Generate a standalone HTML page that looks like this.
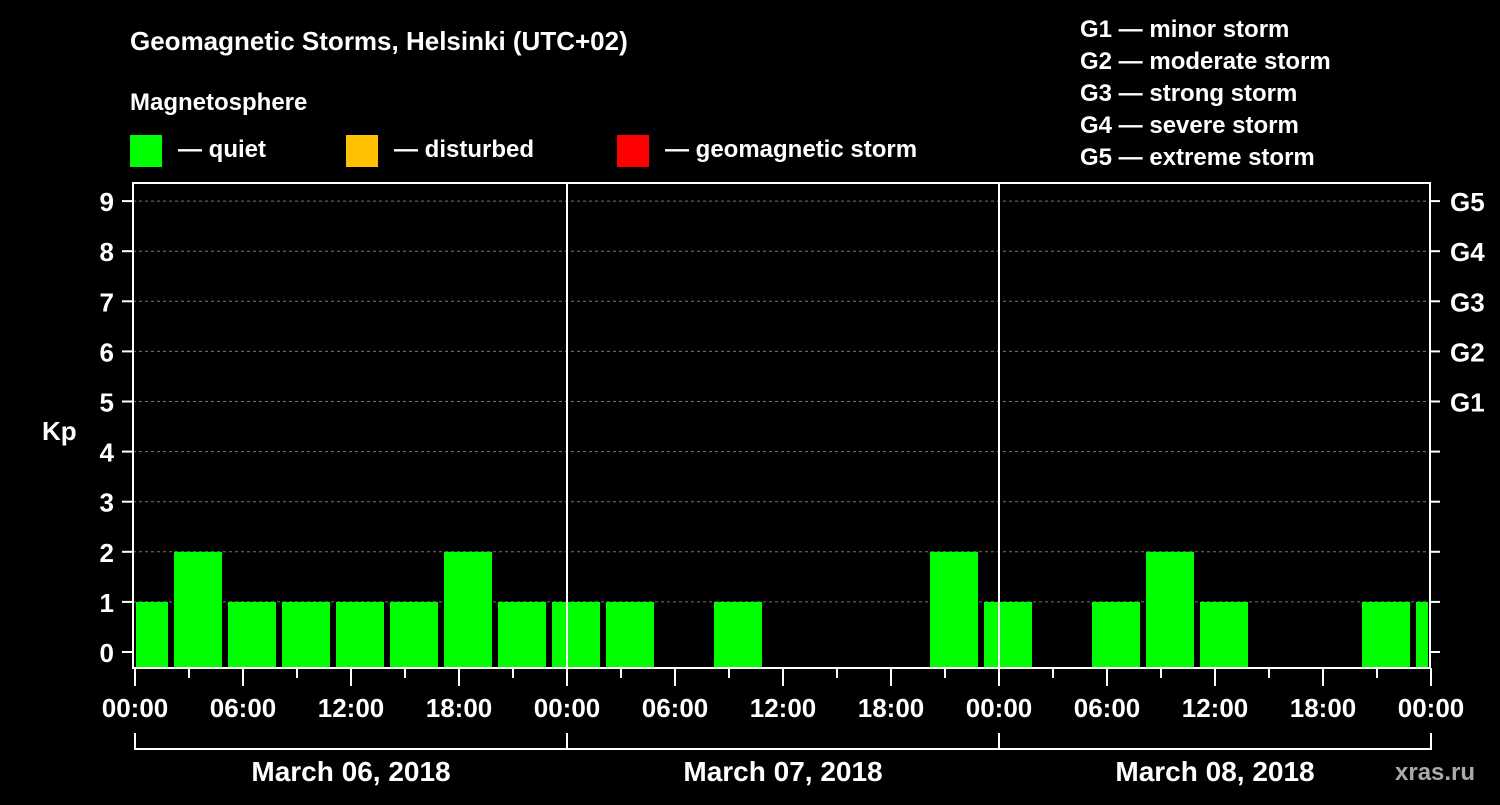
<!DOCTYPE html>
<html><head><meta charset="utf-8"><style>
body{margin:0;background:#000;width:1500px;height:800px;overflow:hidden}
svg text{font-family:"Liberation Sans",Arial,sans-serif;font-weight:bold;fill:#fff}
</style></head><body>
<svg id="c" width="1500" height="800">
<text x="130" y="50" font-size="26">Geomagnetic Storms, Helsinki (UTC+02)</text>
<text x="130" y="110" font-size="24">Magnetosphere</text>
<rect x="130" y="135" width="32" height="32" fill="#00ff00"/>
<text x="178" y="157" font-size="24">— quiet</text>
<rect x="346" y="135" width="32" height="32" fill="#ffc000"/>
<text x="394" y="157" font-size="24">— disturbed</text>
<rect x="617" y="135" width="32" height="32" fill="#ff0000"/>
<text x="665" y="157" font-size="24">— geomagnetic storm</text>
<g font-size="24">
<text x="1080" y="37">G1 — minor storm</text>
<text x="1080" y="69">G2 — moderate storm</text>
<text x="1080" y="101">G3 — strong storm</text>
<text x="1080" y="133">G4 — severe storm</text>
<text x="1080" y="165">G5 — extreme storm</text>
</g>
<text x="42" y="440" font-size="26">Kp</text>
<text x="1395" y="780" font-size="24" fill="#aaa" style="fill:#aaa">xras.ru</text>
<g id="grid"></g><g id="bars"></g><g id="axes"></g>
</svg>
<script>
const values=[1,2,1,1,1,1,2,1,1,1,0,1,0,0,0,2,1,0,1,2,1,0,0,1,1];
const kpTicks=[0,1,2,3,4,5,6,7,8,9];
const gLabels=["","","","","","G1","G2","G3","G4","G5"];
const timeLabels=["00:00","06:00","12:00","18:00"];
const days=["March 06, 2018","March 07, 2018","March 08, 2018"];
const NS="http://www.w3.org/2000/svg";
const L=133,R=1430,T=183,B=668,X0=135,PH=18;
const y=v=>652-50.1*v;
const x=h=>X0+h*PH;
function mk(t,a,p){const e=document.createElementNS(NS,t);for(const k in a)e.setAttribute(k,a[k]);p.appendChild(e);return e;}
const grid=document.getElementById('grid'),bars=document.getElementById('bars'),axes=document.getElementById('axes');
kpTicks.forEach(v=>{
 if(v>0){const g=mk('line',{x1:L,x2:R,y1:y(v),y2:y(v),stroke:'#777','stroke-dasharray':'3,3'},grid);
 
 }
 const t=mk('line',{x1:122,x2:L,y1:y(v),y2:y(v),stroke:'#fff','stroke-width':2},axes);
 
 
 const t2=mk('line',{x1:R,x2:R+10,y1:y(v),y2:y(v),stroke:'#fff','stroke-width':2},axes);
 
 
 const lb=mk('text',{x:114,y:y(v)+10,'font-size':26,'text-anchor':'end'},axes);lb.textContent=v;
 
 
 if(gLabels[v]){const gl=mk('text',{x:1450,y:y(v)+10,'font-size':26},axes);gl.textContent=gLabels[v];
 
 }
});
values.forEach((v,k)=>{
 if(v<=0)return;
 let a=x(-1+3*k)+3,b=x(2+3*k)-3;
 a=Math.max(a,136);b=Math.min(b,1428);
 const r=mk('rect',{x:a,y:y(v),width:b-a,height:667-y(v),fill:v>=5?'#ff0000':v>=4?'#ffc000':'#00ff00'},bars);
 
 
});
mk('rect',{x:L,y:T,width:R-L,height:B-T,fill:'none',stroke:'#fff','stroke-width':2},axes);
[1,2].forEach(d=>{const l=mk('line',{x1:x(24*d),x2:x(24*d),y1:T,y2:B,stroke:'#fff','stroke-width':2},axes);
 
 });
for(let h=0;h<=72;h+=3){
 const major=h%6==0;
 const t=mk('line',{x1:x(h),x2:x(h),y1:B,y2:major?686:678,stroke:'#fff','stroke-width':2},axes);
 
 
 if(major){const lb=mk('text',{x:x(h),y:717,'font-size':26,'text-anchor':'middle'},axes);
 lb.textContent=timeLabels[(h%24)/6];
 
 }
}
days.forEach((d,i)=>{
 const a=x(24*i),b=x(24*(i+1));
 const p=mk('path',{d:`M${a},733V749H${b}V733`,fill:'none',stroke:'#fff','stroke-width':2},axes);
 
 
 const t=mk('text',{x:(a+b)/2,y:781,'font-size':28,'text-anchor':'middle'},axes);t.textContent=d;
 
 
});
</script>
</body></html>
